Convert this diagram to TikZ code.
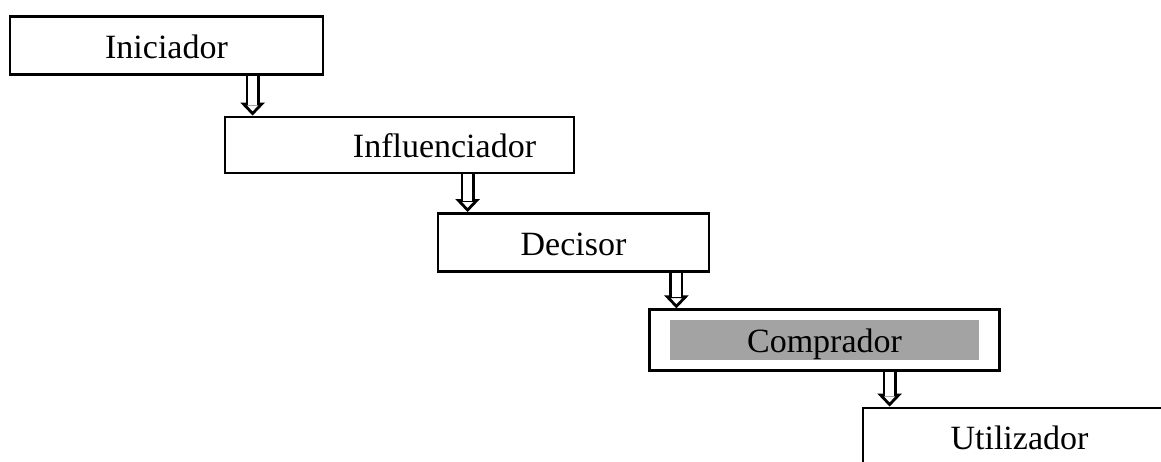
\documentclass[tikz,border=0pt]{standalone}
\usepackage{fontspec}
\setmainfont{Liberation Serif}
\usetikzlibrary{arrows.meta,fit}

\tikzset{
  box/.style={
    draw,
    line width=2.8pt,
    minimum height=58pt,
    inner sep=0pt,
    text height=25pt,
    text depth=0pt,
    font=\fontsize{34}{40}\selectfont
  },
  grayband/.style={
    fill=black!36,
    minimum width=309pt,
    minimum height=40pt,
    inner sep=0pt,
    text height=25pt,
    text depth=0pt,
    font=\fontsize{34}{40}\selectfont
  },
  headtip/.style={line width=2.8pt, -{Triangle[length=13pt,width=24pt,fill=white]}},
  shaft/.style={line width=2.8pt, double distance=8.5pt, shorten >=11pt}
}

\begin{document}
\begin{tikzpicture}[x=1pt,y=-1pt]
  \useasboundingbox (0,0) rectangle (1161,461);
  \fill[white] (0,0) rectangle (1161,461);
  \clip (0,0) rectangle (1161,461);

  % Boxes
  \node[box, minimum width=313pt] (ini) at (166.5,45.5) {Iniciador};
  \node[box, minimum width=349pt, minimum height=56pt] (infl) at (399.5,145) {\hspace*{90pt}Influenciador};
  \node[box, minimum width=271pt] (dec) at (573.5,242.5) {Decisor};

  % Comprador: shaded band inside a frame
  \node[grayband] (compin) at (824.5,340) {Comprador};
  \node[box, fit=(compin), inner xsep=20pt, inner ysep=10pt] (comp) {};

  \node[box, minimum width=313pt, minimum height=57pt] (util) at (1019.5,436.5) {Utilizador};

  % Arrows
  \coordinate (a1) at ([xshift=29pt]infl.north west);
  \coordinate (a2) at ([xshift=31pt]dec.north west);
  \coordinate (a3) at ([xshift=28pt]comp.north west);
  \coordinate (a4) at ([xshift=28pt]util.north west);

  \foreach \from/\to in {ini/a1, infl/a2, dec/a3, comp/a4} {
    \draw[headtip] (\from.south -| \to) -- (\to);
    \draw[shaft] (\from.south -| \to) -- (\to);
  }
\end{tikzpicture}
\end{document}
